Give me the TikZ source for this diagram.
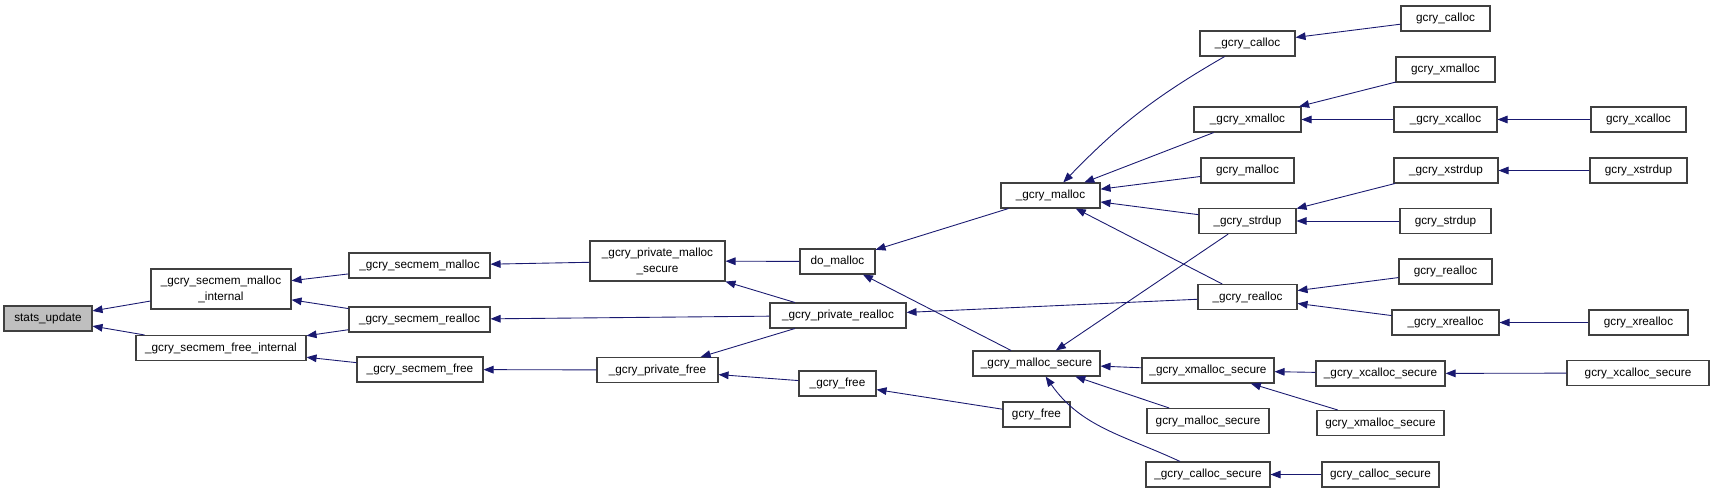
\documentclass[tikz,border=0pt]{standalone}
\usepackage{fontspec}
\setmainfont{Liberation Sans}
\usetikzlibrary{arrows.meta}

\definecolor{edgeblue}{RGB}{25,25,112}
\definecolor{boxline}{RGB}{64,64,64}
\def\px{0.85pt}

\tikzset{
    fn/.style={draw=boxline, line width=0.9pt, inner sep=0pt,
        minimum width=#1*\px, minimum height=25*\px,
        font=\fontsize{10}{13.6}\selectfont, align=center},
    call/.style={draw=edgeblue, line width=0.75pt,
        -{Triangle[length=8.5pt,width=6.5pt]}}
}

\begin{document}
\begin{tikzpicture}[x=\px, y=-\px]

\useasboundingbox (0,0) rectangle (1715,493);

% Root
\node[fn=88, fill=black!25] (stats) at (48,318.5) {stats\_update};

% Secmem layer
\node[fn=140, minimum height=40*\px] (malint) at (221,289) {\_gcry\_secmem\_malloc\\\_internal};
\node[fn=170] (freeint) at (221,348) {\_gcry\_secmem\_free\_internal};
\node[fn=141] (smalloc) at (419.5,265.5) {\_gcry\_secmem\_malloc};
\node[fn=141] (srealloc) at (419.5,319.5) {\_gcry\_secmem\_realloc};
\node[fn=126] (sfree) at (420,369.5) {\_gcry\_secmem\_free};

% Private layer
\node[fn=135, minimum height=40*\px] (pmsec) at (657.5,261) {\_gcry\_private\_malloc\\\_secure};
\node[fn=121] (pfree) at (657.5,370) {\_gcry\_private\_free};
\node[fn=75] (domalloc) at (837.5,261.5) {do\_malloc};
\node[fn=136] (prealloc) at (838,315.5) {\_gcry\_private\_realloc};
\node[fn=77] (ifree) at (837.5,383.5) {\_gcry\_free};

% Global layer
\node[fn=99] (imalloc) at (1050.5,195.5) {\_gcry\_malloc};
\node[fn=127] (imallocsec) at (1036.5,363.5) {\_gcry\_malloc\_secure};
\node[fn=67] (gfree) at (1036.5,414.5) {gcry\_free};

\node[fn=95] (icalloc) at (1247.5,43.5) {\_gcry\_calloc};
\node[fn=107] (ixmalloc) at (1247.5,119.5) {\_gcry\_xmalloc};
\node[fn=93] (gmalloc) at (1247.5,170.5) {gcry\_malloc};
\node[fn=97] (istrdup) at (1247.5,221) {\_gcry\_strdup};
\node[fn=99] (irealloc) at (1247.5,297) {\_gcry\_realloc};
\node[fn=132] (ixmallocsec) at (1208,370.5) {\_gcry\_xmalloc\_secure};
\node[fn=122] (gmallocsec) at (1208,421) {gcry\_malloc\_secure};
\node[fn=124] (icallocsec) at (1208,474.5) {\_gcry\_calloc\_secure};

\node[fn=89] (gcalloc) at (1445.5,18.5) {gcry\_calloc};
\node[fn=99] (gxmalloc) at (1445.5,69.5) {gcry\_xmalloc};
\node[fn=103] (ixcalloc) at (1445.5,119.5) {\_gcry\_xcalloc};
\node[fn=104] (ixstrdup) at (1446,170.5) {\_gcry\_xstrdup};
\node[fn=91] (gstrdup) at (1445.5,221) {gcry\_strdup};
\node[fn=93] (grealloc) at (1445.5,271.5) {gcry\_realloc};
\node[fn=107] (ixrealloc) at (1445.5,322.5) {\_gcry\_xrealloc};
\node[fn=129] (ixcallocsec) at (1380.5,373.5) {\_gcry\_xcalloc\_secure};
\node[fn=127] (gxmallocsec) at (1380.5,423) {gcry\_xmalloc\_secure};
\node[fn=117] (gcallocsec) at (1380.5,474.5) {gcry\_calloc\_secure};

\node[fn=95] (gxcalloc) at (1638.5,119.5) {gcry\_xcalloc};
\node[fn=97] (gxstrdup) at (1638.5,170.5) {gcry\_xstrdup};
\node[fn=99] (gxrealloc) at (1638.5,322.5) {gcry\_xrealloc};
\node[fn=142] (gxcallocsec) at (1638,373) {gcry\_xcalloc\_secure};

% Calls (caller -> callee)
\draw[call] (malint) -- (stats);
\draw[call] (freeint) -- (stats);
\draw[call] (smalloc) -- (malint);
\draw[call] (srealloc) -- (malint);
\draw[call] (srealloc) -- (freeint);
\draw[call] (sfree) -- (freeint);
\draw[call] (pmsec) -- (smalloc);
\draw[call] (prealloc) -- (srealloc);
\draw[call] (pfree) -- (sfree);
\draw[call] (domalloc) -- (pmsec);
\draw[call] (prealloc) -- (pmsec);
\draw[call] (prealloc) -- (pfree);
\draw[call] (ifree) -- (pfree);
\draw[call] (imalloc) -- (domalloc);
\draw[call] (imallocsec) -- (domalloc);
\draw[call] (irealloc) -- (prealloc);
\draw[call] (gfree) -- (ifree);

\draw[call] (icalloc) to[bend right=8] (imalloc);
\draw[call] (ixmalloc) -- (imalloc);
\draw[call] (gmalloc) -- (imalloc);
\draw[call] (istrdup) -- (imalloc);
\draw[call] (irealloc) -- (imalloc);
\draw[call] (istrdup) -- (imallocsec);
\draw[call] (ixmallocsec) -- (imallocsec);
\draw[call] (gmallocsec) -- (imallocsec);
\draw[call] (icallocsec) to[out=155, in=-55] (imallocsec);

\draw[call] (gcalloc) -- (icalloc);
\draw[call] (gxmalloc) -- (ixmalloc);
\draw[call] (ixcalloc) -- (ixmalloc);
\draw[call] (gxcalloc) -- (ixcalloc);
\draw[call] (ixstrdup) -- (istrdup);
\draw[call] (gstrdup) -- (istrdup);
\draw[call] (gxstrdup) -- (ixstrdup);
\draw[call] (grealloc) -- (irealloc);
\draw[call] (ixrealloc) -- (irealloc);
\draw[call] (gxrealloc) -- (ixrealloc);
\draw[call] (ixcallocsec) -- (ixmallocsec);
\draw[call] (gxmallocsec) -- (ixmallocsec);
\draw[call] (gxcallocsec) -- (ixcallocsec);
\draw[call] (gcallocsec) -- (icallocsec);

\end{tikzpicture}
\end{document}
